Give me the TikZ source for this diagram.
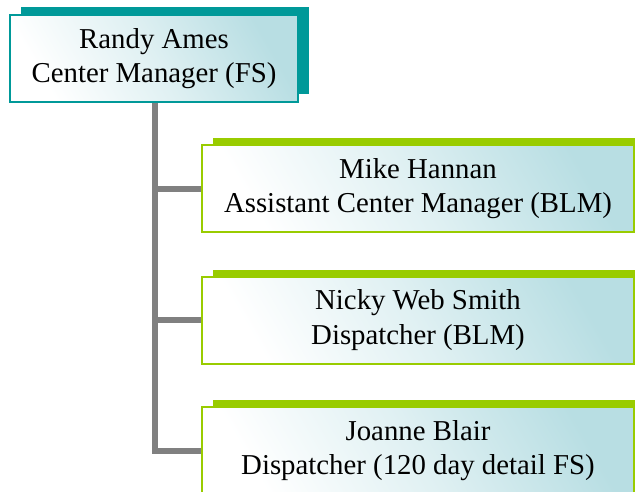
\documentclass[tikz,border=0pt]{standalone}
\usepackage{fontspec}
\setmainfont{Liberation Serif}
\usetikzlibrary{positioning,shadows}

\definecolor{chartteal}{RGB}{0,153,153}
\definecolor{chartgreen}{RGB}{153,204,0}
\definecolor{charttint}{RGB}{184,222,227}
\definecolor{chartgray}{RGB}{128,128,128}

\begin{document}
\begin{tikzpicture}[
    x=1pt, y=-1pt,
    card/.style={rectangle, align=center, inner sep=4pt,
        font=\fontsize{28.8}{34.4}\selectfont,
        top color=charttint, bottom color=white, middle color=white!55!charttint,
        shading angle=-60},
    rootbox/.style={card, draw=chartteal, line width=1.5pt,
        minimum width=288pt, minimum height=87pt,
        general shadow={fill=chartteal, shadow xshift=11pt, shadow yshift=8pt}},
    staffbox/.style={card, draw=chartgreen, line width=2pt,
        minimum width=432pt, minimum height=87pt,
        general shadow={fill=chartgreen, shadow xshift=11pt, shadow yshift=7pt}},
    link/.style={draw=chartgray, line width=6pt}
]
\useasboundingbox (0,0) rectangle (635,491);

% Center manager
\node[rootbox] (ames) at (154,58.5) {Randy Ames\\Center Manager (FS)};

% Staff
\node[staffbox] (hannan) at (418,188.5) {Mike Hannan\\Assistant Center Manager (BLM)};
\node[staffbox] (smith) at (418,320) {Nicky Web Smith\\Dispatcher (BLM)};
\node[staffbox] (blair) at (418,450.5) {Joanne Blair\\Dispatcher (120 day detail FS)};

% Reporting lines
\draw[link] ([xshift=1pt]ames.south) |- (hannan.west);
\draw[link] ([xshift=1pt]ames.south) |- (smith.west);
\draw[link] ([xshift=1pt]ames.south) |- (blair.west);

\end{tikzpicture}
\end{document}
